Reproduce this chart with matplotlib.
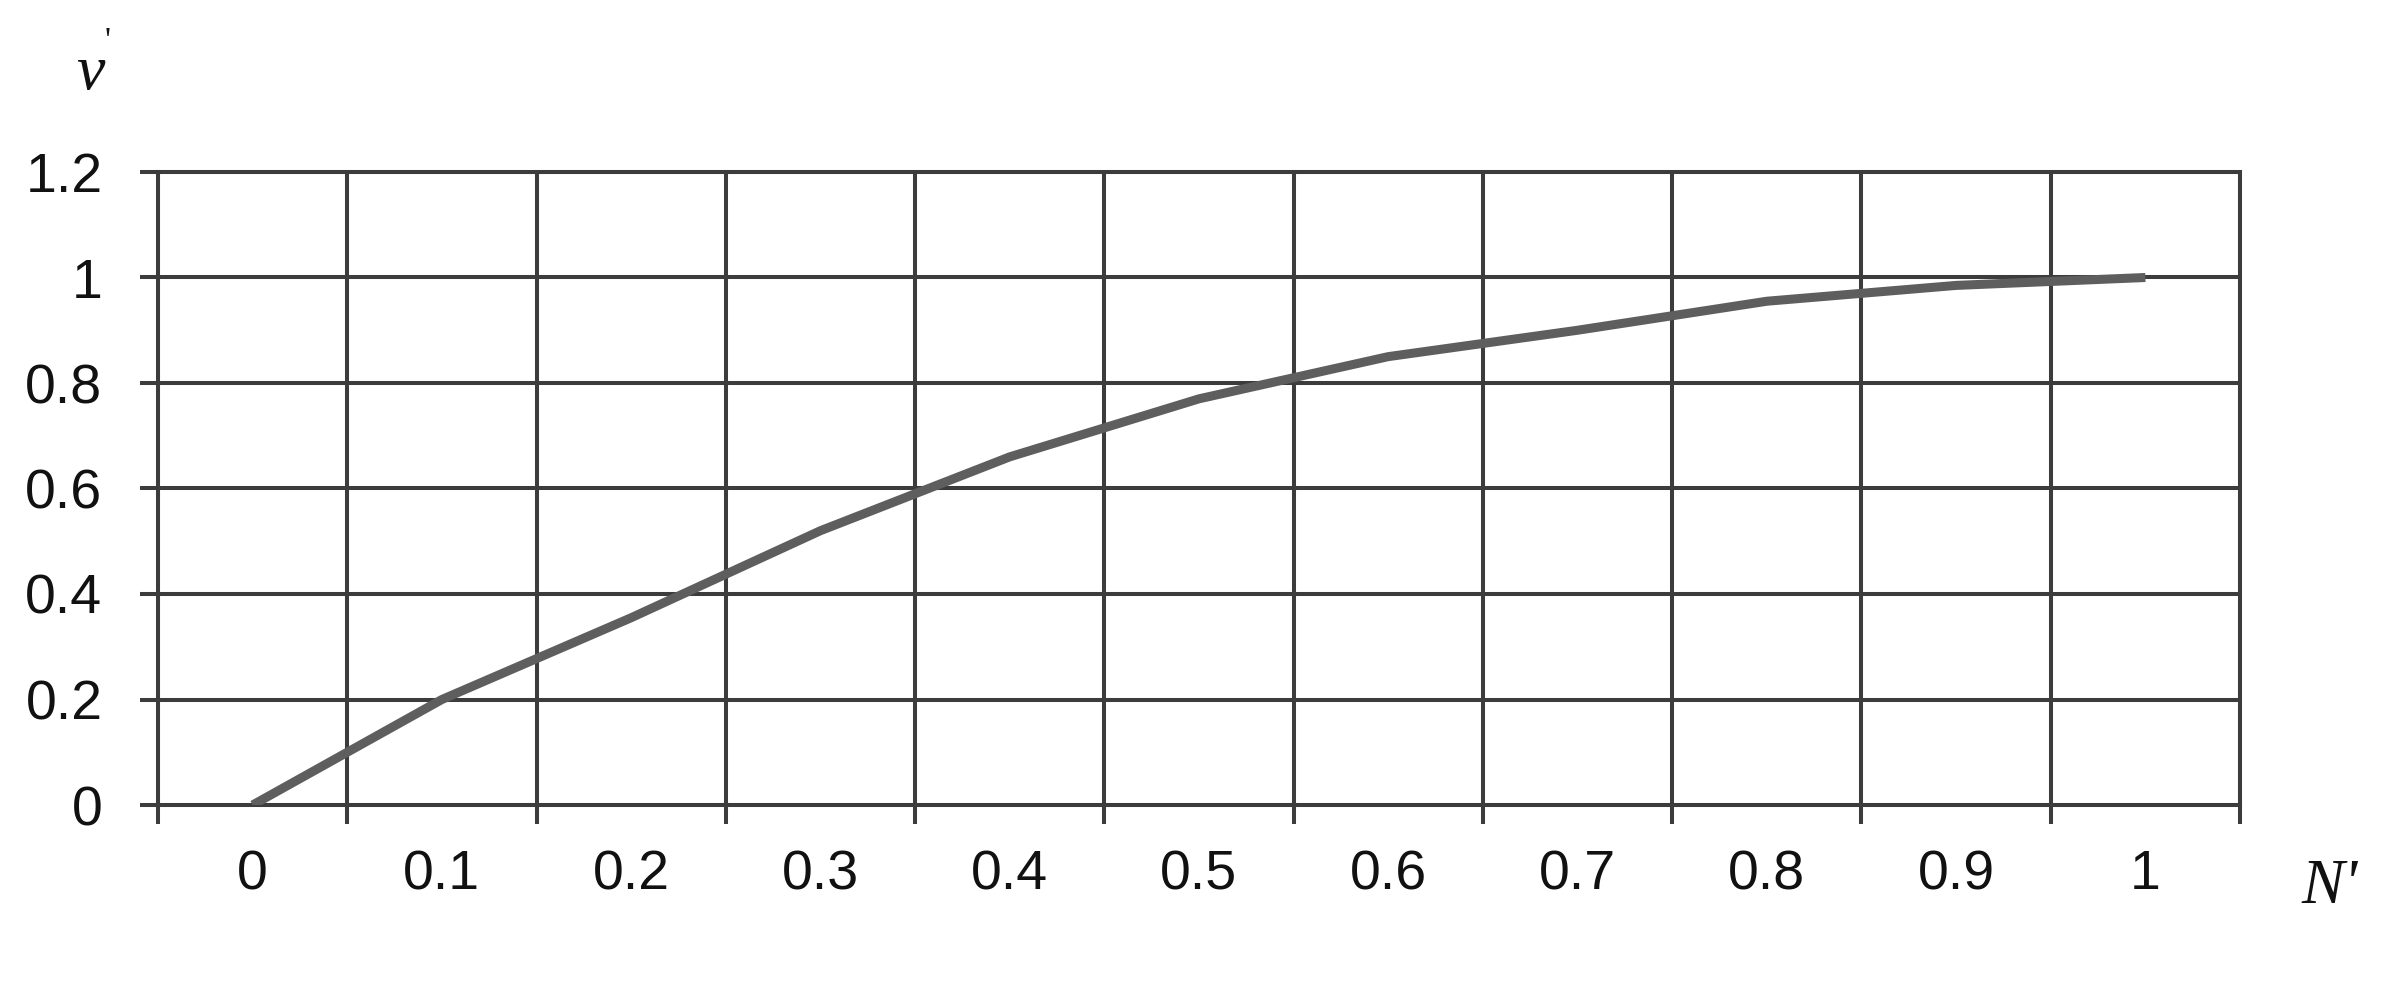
import numpy as np
import matplotlib
matplotlib.use("Agg")
import matplotlib.pyplot as plt

# categories on the x axis and curve values v'(N)
categories = ["0", "0.1", "0.2", "0.3", "0.4", "0.5", "0.6", "0.7", "0.8", "0.9", "1"]
values = [0.0, 0.2, 0.355, 0.52, 0.66, 0.77, 0.85, 0.90, 0.955, 0.985, 1.0]
y_ticks = [0, 0.2, 0.4, 0.6, 0.8, 1.0, 1.2]
y_labels = ["0", "0.2", "0.4", "0.6", "0.8", "1", "1.2"]

grid_col = "#3c3c3c"
line_col = "#5e5e5e"

plt.rcParams["font.family"] = ["Liberation Sans", "DejaVu Sans"]

fig = plt.figure(figsize=(24.04, 9.96), dpi=100)
W, H = 2404, 996
ax = fig.add_axes([158 / W, (H - 805) / H, (2240 - 158) / W, (805 - 172) / H])

x = np.arange(len(categories))
ax.plot(x, values, color=line_col, lw=6.5, solid_capstyle="butt", zorder=3)

ax.set_xlim(-0.5, len(categories) - 0.5)
ax.set_ylim(0, 1.2)

# gridlines on category boundaries, labels in the middle of each cell
bounds = np.arange(len(categories) + 1) - 0.5
ax.set_xticks(bounds)
ax.set_xticklabels([])
ax.set_xticks(x, minor=True)
ax.set_xticklabels(categories, minor=True)
ax.set_yticks(y_ticks)
ax.set_yticklabels(y_labels)

ax.grid(True, which="major", color=grid_col, lw=2.9)
ax.tick_params(axis="x", which="major", length=14, width=2.9, color=grid_col)
ax.tick_params(axis="x", which="minor", length=0, pad=32, labelsize=40, labelcolor="#111111")
ax.tick_params(axis="y", which="major", length=13, width=2.9, color=grid_col,
               pad=27, labelsize=40, labelcolor="#111111")
for s in ax.spines.values():
    s.set_color(grid_col)
    s.set_linewidth(2.9)

# axis names
serif = ["Liberation Serif", "DejaVu Serif"]
fig.text(90 / W, 1 - 74 / H, "v", family=serif, style="italic", fontsize=46,
         ha="center", va="center", color="#111111")
fig.text(108 / W, 1 - 42 / H, "'", family=serif, fontsize=24,
         ha="center", va="center", color="#111111")
fig.text(2330 / W, 1 - 888 / H, "N'", family=serif, style="italic", fontsize=46,
         ha="center", va="center", color="#111111")

fig.savefig("out.png", dpi=100, facecolor="white")
